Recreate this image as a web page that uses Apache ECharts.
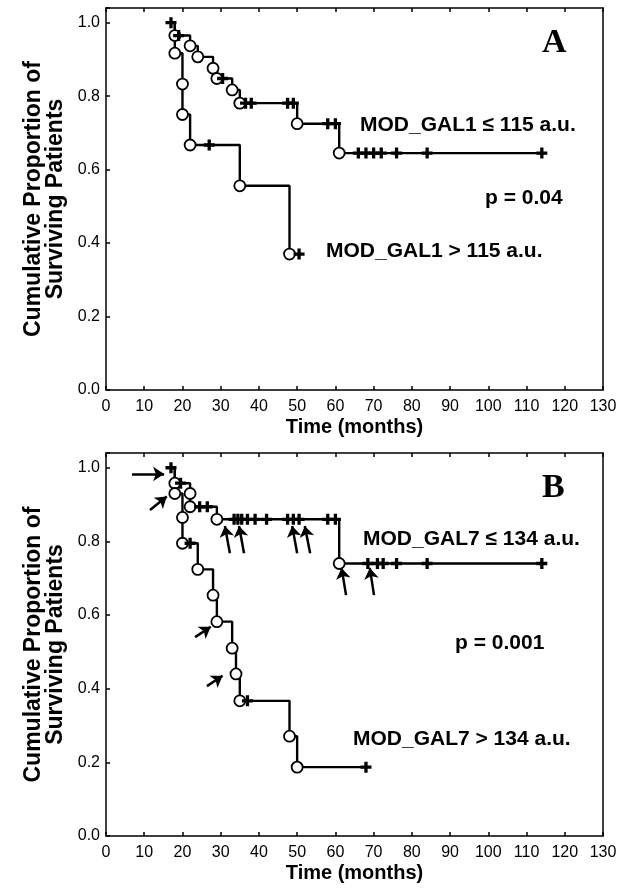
<!DOCTYPE html>
<html>
<head>
<meta charset="utf-8">
<title>Survival by MOD_GAL1 / MOD_GAL7</title>
<script src="https://cdn.jsdelivr.net/npm/echarts@6/dist/echarts.min.js"></script>
<style>
  html, body { margin: 0; padding: 0; background: #fff; }
  #chart { width: 621px; height: 888px; }
</style>
</head>
<body>
<div id="chart"></div>
<script>
// panel A, MOD_GAL1 <= 115 a.u.  (o = death, + = censored)
const aLeTime = [17, 18, 19, 22, 24, 28, 29, 30.5, 33, 35, 36.5, 38, 47.5, 49, 50, 58, 60, 61, 66, 68, 70, 72, 76, 84, 114];
const aLeSurv = [1.0, 0.965, 0.965, 0.937, 0.907, 0.876, 0.848, 0.848, 0.817, 0.781, 0.781, 0.781, 0.781, 0.781,
                 0.725, 0.725, 0.725, 0.645, 0.645, 0.645, 0.645, 0.645, 0.645, 0.645, 0.645];
const aLeMark = ['+', 'o', '+', 'o', 'o', 'o', 'o', '+', 'o', 'o', '+', '+', '+', '+', 'o', '+', '+', 'o',
                 '+', '+', '+', '+', '+', '+', '+'];

// panel A, MOD_GAL1 > 115 a.u.
const aGtTime = [17, 18, 20, 20, 22, 27, 35, 48, 50.5];
const aGtSurv = [1.0, 0.917, 0.833, 0.75, 0.667, 0.667, 0.556, 0.37, 0.37];
const aGtMark = ['', 'o', 'o', 'o', 'o', '+', 'o', 'o', '+'];

// panel B, MOD_GAL7 <= 134 a.u.
const bLeTime = [17, 18, 19.5, 22, 22, 24.5, 26.5, 29, 33.5, 34.5, 35.5, 37, 39, 42, 47.5, 49, 50.5, 58, 60,
                 61, 68.5, 71, 72.5, 76, 84, 114];
const bLeSurv = [1.0, 0.958, 0.958, 0.93, 0.894, 0.894, 0.894, 0.86, 0.86, 0.86, 0.86, 0.86, 0.86, 0.86, 0.86,
                 0.86, 0.86, 0.86, 0.86, 0.74, 0.74, 0.74, 0.74, 0.74, 0.74, 0.74];
const bLeMark = ['+', 'o', '+', 'o', 'o', '+', '+', 'o', '+', '+', '+', '+', '+', '+', '+', '+', '+', '+', '+',
                 'o', '+', '+', '+', '+', '+', '+'];

// panel B, MOD_GAL7 > 134 a.u.
const bGtTime = [17, 18, 20, 20, 22, 24, 28, 29, 33, 34, 35, 37, 48, 50, 68];
const bGtSurv = [1.0, 0.93, 0.865, 0.795, 0.795, 0.724, 0.654, 0.582, 0.51, 0.44, 0.367, 0.367, 0.271, 0.187, 0.187];
const bGtMark = ['', 'o', 'o', 'o', '+', 'o', 'o', 'o', 'o', 'o', 'o', '+', 'o', 'o', '+'];

// arrows drawn on panel B: [tail time, tail surv, head time, head surv]
const arrowsB = [
  [6.8, 0.983, 15.2, 0.983],
  [11.5, 0.885, 15.9, 0.922],
  [32.4, 0.768, 31.1, 0.842],
  [36.1, 0.768, 34.8, 0.842],
  [50.0, 0.768, 48.7, 0.842],
  [53.4, 0.768, 52.0, 0.842],
  [62.8, 0.654, 61.6, 0.728],
  [70.1, 0.654, 69.0, 0.728],
  [23.3, 0.54, 27.4, 0.568],
  [26.4, 0.407, 30.5, 0.435]
];

const xTicks = [0, 10, 20, 30, 40, 50, 60, 70, 80, 90, 100, 110, 120, 130];
const yTicks = [0, 0.2, 0.4, 0.6, 0.8, 1.0];

const FONT = 'Liberation Sans, Arial, sans-serif';
const PLUS = 'path://M2.8,0H5.2V2.8H8V5.2H5.2V8H2.8V5.2H0V2.8H2.8Z';

function toData(times, surv, marks) {
  return times.map((t, i) => {
    const m = marks[i];
    if (m === 'o') {
      return { value: [t, surv[i]], symbol: 'circle', symbolSize: 11,
        itemStyle: { color: '#fff', borderColor: '#000', borderWidth: 1.8 } };
    }
    if (m === '+') {
      return { value: [t, surv[i]], symbol: PLUS, symbolSize: 11,
        itemStyle: { color: '#000', borderWidth: 0 } };
    }
    return { value: [t, surv[i]], symbol: 'none' };
  });
}

function curve(name, idx, times, surv, marks) {
  return {
    name: name,
    type: 'line',
    step: 'end',
    xAxisIndex: idx * 2,
    yAxisIndex: idx * 2,
    showAllSymbol: true,
    lineStyle: { color: '#000', width: 2.4 },
    data: toData(times, surv, marks),
    z: 3
  };
}

const black = { color: '#000', width: 1.5 };

function bottomX(grid) {
  return {
    gridIndex: grid, type: 'value', min: 0, max: 130, interval: 10, position: 'bottom',
    axisLine: { show: true, onZero: false, lineStyle: black },
    axisTick: { inside: true, length: 4, lineStyle: black },
    axisLabel: { color: '#000', fontSize: 16, fontFamily: FONT, margin: 9,
      formatter: v => xTicks.includes(v) ? String(v) : '' },
    splitLine: { show: false },
    name: 'Time (months)', nameLocation: 'middle', nameGap: 27,
    nameTextStyle: { color: '#000', fontSize: 20, fontWeight: 'bold', fontFamily: FONT }
  };
}
function topX(grid) {
  return {
    gridIndex: grid, type: 'value', min: 0, max: 130, interval: 10, position: 'top',
    axisLine: { show: true, onZero: false, lineStyle: black },
    axisTick: { inside: true, length: 4, lineStyle: black },
    axisLabel: { show: false }, splitLine: { show: false }
  };
}
function leftY(grid) {
  return {
    gridIndex: grid, type: 'value', min: 0, max: 1.04, interval: 0.2, position: 'left',
    axisLine: { show: true, onZero: false, lineStyle: black },
    axisTick: { inside: true, length: 4, lineStyle: black },
    axisLabel: { color: '#000', fontSize: 16, fontFamily: FONT, margin: 6,
      formatter: v => yTicks.some(t => Math.abs(t - v) < 1e-6) ? v.toFixed(1) : '' },
    splitLine: { show: false },
    name: 'Cumulative Proportion of\nSurviving Patients', nameLocation: 'middle', nameGap: 36,
    nameTextStyle: { color: '#000', fontSize: 23, fontWeight: 'bold', fontFamily: FONT, lineHeight: 22 }
  };
}
function rightY(grid) {
  return {
    gridIndex: grid, type: 'value', min: 0, max: 1.04, position: 'right',
    axisLine: { show: true, onZero: false, lineStyle: black },
    axisTick: { show: false }, axisLabel: { show: false }, splitLine: { show: false }
  };
}

const annot = { fill: '#000', fontFamily: FONT, fontWeight: 'bold', fontSize: 21 };
function txt(x, y, s, extra) {
  return { type: 'text', left: x, top: y, style: Object.assign({ text: s }, annot, extra || {}) };
}

const chart = echarts.init(document.getElementById('chart'));

const arrowSeries = {
  type: 'line', xAxisIndex: 2, yAxisIndex: 2, data: [], silent: true,
  markLine: {
    silent: true, animation: false,
    symbol: ['none', 'arrow'], symbolSize: 11,
    label: { show: false },
    lineStyle: { color: '#000', width: 2.5, type: 'solid' },
    emphasis: { disabled: true },
    data: arrowsB.map(a => [{ coord: [a[0], a[1]] }, { coord: [a[2], a[3]] }])
  }
};

chart.setOption({
  backgroundColor: '#fff',
  animation: false,
  grid: [
    { left: 106, top: 8, width: 497, height: 382 },
    { left: 106, top: 453, width: 497, height: 383 }
  ],
  xAxis: [bottomX(0), topX(0), bottomX(1), topX(1)],
  yAxis: [leftY(0), rightY(0), leftY(1), rightY(1)],
  series: [
    curve('MOD_GAL1 <= 115 a.u.', 0, aLeTime, aLeSurv, aLeMark),
    curve('MOD_GAL1 > 115 a.u.', 0, aGtTime, aGtSurv, aGtMark),
    curve('MOD_GAL7 <= 134 a.u.', 1, bLeTime, bLeSurv, bLeMark),
    curve('MOD_GAL7 > 134 a.u.', 1, bGtTime, bGtSurv, bGtMark),
    arrowSeries
  ],
  graphic: [
    txt(542, 26, 'A', { fontFamily: 'Liberation Serif, Times New Roman, serif', fontSize: 34 }),
    txt(360, 115, 'MOD_GAL1 \u2264 115 a.u.'),
    txt(485, 188, 'p = 0.04'),
    txt(326, 241, 'MOD_GAL1 > 115 a.u.'),
    txt(542, 471, 'B', { fontFamily: 'Liberation Serif, Times New Roman, serif', fontSize: 34 }),
    txt(363, 529, 'MOD_GAL7 \u2264 134 a.u.'),
    txt(455, 633, 'p = 0.001'),
    txt(353, 729, 'MOD_GAL7 > 134 a.u.')
  ]
});
</script>
</body>
</html>
